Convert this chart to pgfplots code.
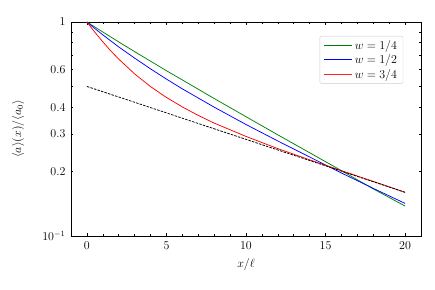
\documentclass[border=0pt]{standalone}
\usepackage{pgfplots}
\pgfplotsset{compat=1.18}
\definecolor{mplgreen}{RGB}{0,128,0}
\newcommand{\fs}{\fontsize{12}{14.4}\selectfont}
\begin{document}
\begin{tikzpicture}[font=\fs]
\begin{axis}[
  scale only axis, width=350pt, height=214pt,
  xmin=-1, xmax=21, ymin=0.1, ymax=1, ymode=log,
  xtick={0,5,10,15,20}, minor x tick num=4,
  ytick={0.1,1}, yticklabels={$10^{-1}$,$1$},
  extra y ticks={0.2,0.3,0.4,0.6},
  extra y tick labels={$0.2$,$0.3$,$0.4$,$0.6$},
  extra y tick style={grid=none, major tick length=2pt},
  minor ytick={0.2,0.3,0.4,0.5,0.6,0.7,0.8,0.9},
  major tick length=3.5pt, minor tick length=2pt,
  tick align=inside,
  every tick/.style={black, line width=0.5pt},
  axis line style={line width=0.8pt},
  tick label style={font=\fs},
  yticklabel style={xshift=-2pt},
  xticklabel style={yshift=-2pt},
  xlabel={$x/\ell$},
  ylabel={$\langle a\rangle(x)/\langle a_0\rangle$},
  label style={font=\fs},
  xlabel style={at={(rel axis cs:0.5,-0.131)}, anchor=center},
  ylabel style={at={(rel axis cs:-0.151,0.5)}, anchor=center},
  legend cell align=left,
  legend style={at={(0.949,0.935)}, anchor=north east, draw=black!20, rounded corners=2pt, fill=white, font=\fs, inner xsep=4pt, inner ysep=2pt, row sep=0pt},
]
\addlegendimage{legend image code/.code={\draw[draw=mplgreen, line width=1pt, sharp corners] (0pt,0pt) -- (28pt,0pt);}}
\addlegendentry{$w=1/4$}
\addlegendimage{legend image code/.code={\draw[draw=blue, line width=1pt, sharp corners] (0pt,0pt) -- (28pt,0pt);}}
\addlegendentry{$w=1/2$}
\addlegendimage{legend image code/.code={\draw[draw=red!85, line width=1pt, sharp corners] (0pt,0pt) -- (28pt,0pt);}}
\addlegendentry{$w=3/4$}
\addplot[mplgreen, line width=0.75pt, forget plot] coordinates {
(0,1.000) (1,0.898) (2,0.807) (3,0.727) (4,0.656) (5,0.592) (6,0.536) (8,0.439) (10,0.361) (12,0.297) (14,0.245) (16,0.202) (18,0.166) (20,0.138)};
\addplot[blue, line width=0.75pt, forget plot] coordinates {
(0,1.000) (0.5,0.932) (1,0.871) (1.5,0.816) (2,0.765) (3,0.678) (4,0.604) (5,0.541) (6,0.487) (8,0.400) (10,0.332) (12,0.278) (14,0.234) (16,0.197) (18,0.167) (20,0.142)};
\addplot[red, line width=0.75pt, forget plot] coordinates {
(0,1.000) (0.5,0.895) (1,0.808) (1.5,0.733) (2,0.671) (3,0.572) (4,0.499) (5,0.444) (6,0.401) (7,0.366) (8,0.337) (10,0.292) (12,0.256) (14,0.227) (16,0.202) (18,0.180) (20,0.160)};
\addplot[black, line width=0.75pt, dash pattern=on 2.5pt off 1.2pt, forget plot] coordinates {(0,0.5) (20,0.16)};
\end{axis}
\pgfresetboundingbox
\path[use as bounding box] (-71pt,-53pt) rectangle (364pt,236pt);
\end{tikzpicture}
\end{document}
